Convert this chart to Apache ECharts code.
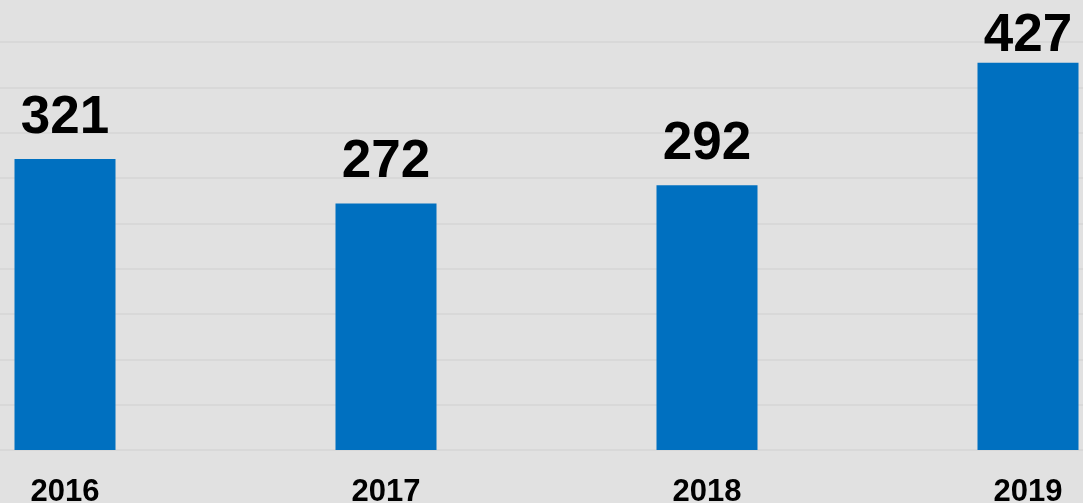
<!DOCTYPE html>
<html><head><meta charset="utf-8">
<script src="https://cdn.jsdelivr.net/npm/echarts@6/dist/echarts.min.js"></script>
<style>html,body{margin:0;padding:0;background:#e1e1e1;}#c{width:1083px;height:503px;}</style>
</head><body><div id="c"></div>
<script>
const categories = ['2016', '2017', '2018', '2019'];
const values = [321, 272, 292, 427];

const seriesData = values.map(function (v, i) {
  return i === values.length - 1 ? { value: v, label: { distance: 0 } } : v;
});

const chart = echarts.init(document.getElementById('c'));
chart.setOption({
  backgroundColor: '#e1e1e1',
  animation: false,
  grid: { left: -95.5, top: 42, width: 1284, bottom: 53, containLabel: false, outerBoundsMode: 'none' },
  xAxis: {
    type: 'category', data: categories,
    axisLine: { show: false }, axisTick: { show: false },
    axisLabel: { color: '#000', fontFamily: 'Liberation Sans, Arial, sans-serif', fontWeight: 'bold', fontSize: 31, margin: 27 }
  },
  yAxis: {
    type: 'value', min: 0, max: 450, interval: 50,
    axisLabel: { show: false }, axisLine: { show: false }, axisTick: { show: false },
    splitLine: { lineStyle: { color: '#d4d4d4', width: 1.5 } }
  },
  series: [{
    type: 'bar', data: seriesData, barWidth: 101,
    itemStyle: { color: '#0070c0' },
    label: { show: true, position: 'top', distance: 14, color: '#000', fontFamily: 'Liberation Sans, Arial, sans-serif', fontWeight: 'bold', fontSize: 53 }
  }]
});
</script></body></html>
